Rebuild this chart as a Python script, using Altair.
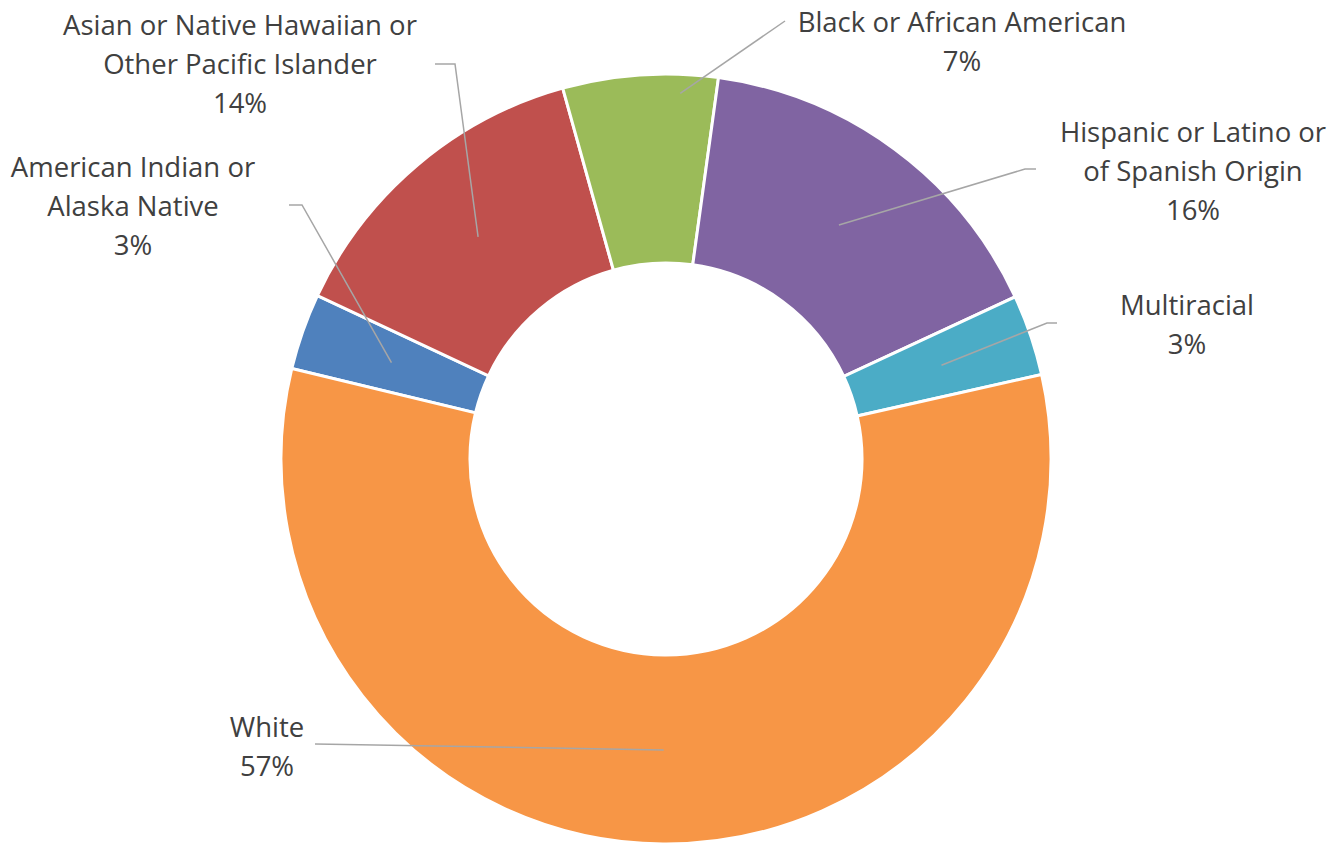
import math
import altair as alt
import pandas as pd

# ---- data ----
categories = [
    "American Indian or Alaska Native",
    "Asian or Native Hawaiian or Other Pacific Islander",
    "Black or African American",
    "Hispanic or Latino or of Spanish Origin",
    "Multiracial",
    "White",
]
shares = [3.2, 13.7, 6.5, 15.9, 3.4, 57.3]
pct_labels = ["3%", "14%", "7%", "16%", "3%", "57%"]
label_lines = [
    ["American Indian or", "Alaska Native"],
    ["Asian or Native Hawaiian or", "Other Pacific Islander"],
    ["Black or African American"],
    ["Hispanic or Latino or", "of Spanish Origin"],
    ["Multiracial"],
    ["White"],
]
colors = ["#4F81BD", "#C0504D", "#9BBB59", "#8064A2", "#4BACC6", "#F79646"]

# ---- layout (pixel units, centre of donut = 0,0, y up) ----
START_DEG = 283.6
OUTER, INNER = 385, 196
W, H = 1328, 838
X_DOMAIN = [-658, 670]
Y_DOMAIN = [-387, 451]
label_xy = [(-533, 282), (-426, 424), (296, 427), (527, 317), (521, 144), (-399, -278)]
anchor_spec = [(0.5, 291), (0.5, 291), (0.76, 366), (0.5, 291), (0.5, 291), (0.5, 291)]
leader_elbow = [(-364, 254), (-211, 395), (119, 438), (359, 290), (381, 136), (-351, -285)]
leader_end = [(-377, 254), (-231, 395), (119, 438), (370, 290), (391, 136), (-351, -285)]

total = sum(shares)
xs = alt.Scale(domain=X_DOMAIN, nice=False, zero=False)
ys = alt.Scale(domain=Y_DOMAIN, nice=False, zero=False)

arc_df = pd.DataFrame({"category": categories, "share": shares, "idx": list(range(len(categories)))})

start = math.radians(START_DEG)
arc = alt.Chart(arc_df).mark_arc(
    outerRadius=OUTER, innerRadius=INNER, stroke="white", strokeWidth=3
).encode(
    theta=alt.Theta("share:Q", stack=True,
                    scale=alt.Scale(domain=[0, total], range=[start, start + 2 * math.pi])),
    color=alt.Color("category:N", scale=alt.Scale(domain=categories, range=colors), legend=None),
    order=alt.Order("idx:Q"),
    x=alt.XDatum(0, type="quantitative", scale=xs, axis=None),
    y=alt.YDatum(0, type="quantitative", scale=ys, axis=None),
)

# leader lines: anchor derived from slice angles
rows = []
cum = 0.0
for i, (cat, s) in enumerate(zip(categories, shares)):
    frac, r = anchor_spec[i]
    ang = math.radians(START_DEG + (cum + frac * s) / total * 360.0)
    cum += s
    pts = [(r * math.sin(ang), r * math.cos(ang)), leader_elbow[i], leader_end[i]]
    for k, (px, py) in enumerate(pts):
        rows.append({"category": cat, "k": k, "x": px, "y": py})
lead_df = pd.DataFrame(rows)

leaders = alt.Chart(lead_df).mark_line(color="#A6A6A6", strokeWidth=1.5).encode(
    x=alt.X("x:Q", scale=xs, axis=None),
    y=alt.Y("y:Q", scale=ys, axis=None),
    detail="category:N",
    order="k:Q",
)

text_df = pd.DataFrame({
    "category": categories,
    "text": ["\n".join(l + [p]) for l, p in zip(label_lines, pct_labels)],
    "x": [p[0] for p in label_xy],
    "y": [p[1] for p in label_xy],
})
labels = alt.Chart(text_df).mark_text(
    align="center", baseline="alphabetic", font="Open Sans", fontSize=27.5,
    color="#404040", lineBreak="\n", lineHeight=39,
).encode(
    x=alt.X("x:Q", scale=xs, axis=None),
    y=alt.Y("y:Q", scale=ys, axis=None),
    text="text:N",
)

chart = alt.layer(arc, leaders, labels).properties(
    width=W, height=H, padding=0, autosize=alt.AutoSizeParams(type="none"),
    background="white",
).configure_view(stroke=None)

chart.save("out.html", embed_options={"renderer": "svg", "actions": False})
